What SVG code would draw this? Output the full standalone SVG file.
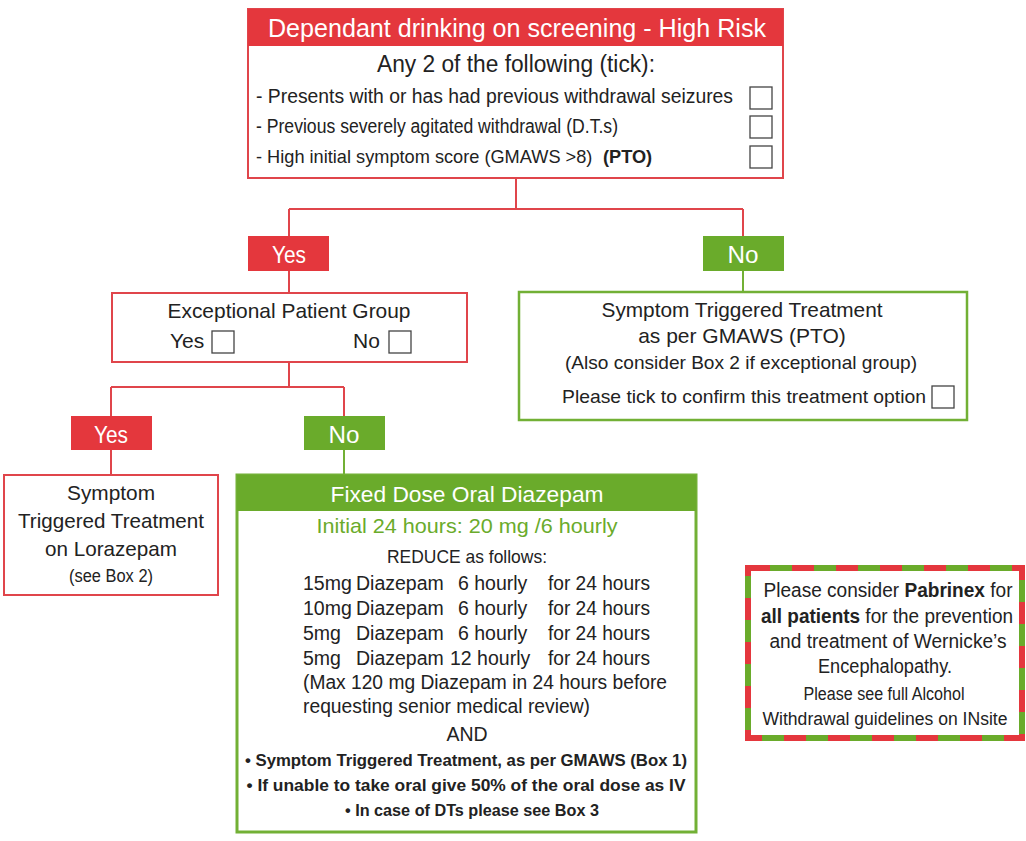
<svg xmlns="http://www.w3.org/2000/svg" width="1026" height="841" viewBox="0 0 1026 841">
<style>
text{font-family:"Liberation Sans",Arial,sans-serif;fill:#222}
.w{fill:#fff}
.c{text-anchor:middle}
.rb{fill:#fff;stroke:#e0454b;stroke-width:2}
.gb{fill:#fff;stroke:#72b035;stroke-width:2.5}
.rf{fill:#e4373d}
.gf{fill:#6aab2b}
.cb{fill:#fff;stroke:#444;stroke-width:1.3}
.rl{stroke:#e0454b;stroke-width:2;fill:none}
.gl{stroke:#72b035;stroke-width:2;fill:none}
.b{font-weight:bold}
</style>
<rect width="1026" height="841" fill="#fff"/>
<g id="connectors">
<path class="rl" d="M516 178V209M289 209H743M289 209V236M743 209V236"/>
<path class="rl" d="M289 271V293"/>
<path class="gl" d="M743 271V292"/>
<path class="rl" d="M289 362V387M111 387H344M111 387V416M344 387V416"/>
<path class="rl" d="M111 450V475"/>
<path class="gl" d="M344 450V475"/>
</g>
<g id="high-risk">
<rect class="rb" x="248" y="9" width="535" height="169"/>
<rect class="rf" x="248" y="9" width="535" height="37"/>
<text class="w c" x="517" y="37" font-size="25.5" textLength="498" lengthAdjust="spacingAndGlyphs">Dependant drinking on screening - High Risk</text>
<text class="c" x="516" y="72" font-size="23" textLength="278" lengthAdjust="spacingAndGlyphs">Any 2 of the following (tick):</text>
<text x="256" y="103" font-size="19.5" textLength="477" lengthAdjust="spacingAndGlyphs">- Presents with or has had previous withdrawal seizures</text>
<text x="256" y="133" font-size="19.5" textLength="362" lengthAdjust="spacingAndGlyphs">- Previous severely agitated withdrawal (D.T.s)</text>
<text x="256" y="163" font-size="18.2">- High initial symptom score (GMAWS &gt;8)</text>
<text class="b" x="603" y="163" font-size="18.2">(PTO)</text>
<rect class="cb" x="750" y="87" width="22" height="22"/>
<rect class="cb" x="750" y="116" width="22" height="22"/>
<rect class="cb" x="750" y="146" width="22" height="22"/>
</g>
<g id="yes1">
<rect class="rf" x="248" y="236" width="81" height="35"/>
<text class="w c" x="289" y="263" font-size="23" textLength="34" lengthAdjust="spacingAndGlyphs">Yes</text>
</g>
<g id="no1">
<rect class="gf" x="703" y="236" width="81" height="35"/>
<text class="w c" x="743" y="263" font-size="23" textLength="31" lengthAdjust="spacingAndGlyphs">No</text>
</g>
<g id="exceptional">
<rect class="rb" x="112" y="293" width="355" height="69"/>
<text class="c" x="289" y="318" font-size="21" textLength="243" lengthAdjust="spacingAndGlyphs">Exceptional Patient Group</text>
<text x="170" y="348" font-size="21">Yes</text>
<rect class="cb" x="212" y="331" width="22" height="22"/>
<text x="353" y="348" font-size="21">No</text>
<rect class="cb" x="389" y="331" width="22" height="22"/>
</g>
<g id="symptom-gmaws">
<rect class="gb" x="519" y="292" width="448" height="128"/>
<text class="c" x="742" y="317" font-size="21" textLength="281" lengthAdjust="spacingAndGlyphs">Symptom Triggered Treatment</text>
<text class="c" x="742" y="343" font-size="21">as per GMAWS (PTO)</text>
<text class="c" x="741" y="369" font-size="18.5" textLength="352" lengthAdjust="spacingAndGlyphs">(Also consider Box 2 if exceptional group)</text>
<text x="562" y="403" font-size="18.5" textLength="364" lengthAdjust="spacingAndGlyphs">Please tick to confirm this treatment option</text>
<rect class="cb" x="932" y="386" width="22" height="22"/>
</g>
<g id="yes2">
<rect class="rf" x="71" y="416" width="81" height="34"/>
<text class="w c" x="111" y="443" font-size="23" textLength="34" lengthAdjust="spacingAndGlyphs">Yes</text>
</g>
<g id="no2">
<rect class="gf" x="304" y="416" width="81" height="34"/>
<text class="w c" x="344" y="443" font-size="23" textLength="31" lengthAdjust="spacingAndGlyphs">No</text>
</g>
<g id="lorazepam">
<rect class="rb" x="4" y="475" width="214" height="120"/>
<text class="c" x="111" y="500" font-size="21" textLength="88" lengthAdjust="spacingAndGlyphs">Symptom</text>
<text class="c" x="111" y="528" font-size="21" textLength="186" lengthAdjust="spacingAndGlyphs">Triggered Treatment</text>
<text class="c" x="111" y="556" font-size="21" textLength="132" lengthAdjust="spacingAndGlyphs">on Lorazepam</text>
<text class="c" x="111" y="582" font-size="17.5" textLength="84" lengthAdjust="spacingAndGlyphs">(see Box 2)</text>
</g>
<g id="diazepam">
<rect x="237" y="475" width="459" height="357" fill="#fff" stroke="#72b035" stroke-width="3"/>
<rect class="gf" x="237" y="475" width="459" height="36"/>
<text class="w c" x="467" y="502" font-size="22.5" textLength="273" lengthAdjust="spacingAndGlyphs">Fixed Dose Oral Diazepam</text>
<text class="c" x="467" y="533" font-size="21" style="fill:#6aab2b" textLength="301" lengthAdjust="spacingAndGlyphs">Initial 24 hours: 20 mg /6 hourly</text>
<text class="c" x="467" y="563" font-size="19" textLength="160" lengthAdjust="spacingAndGlyphs">REDUCE as follows:</text>
<g font-size="19.5">
<text x="303" y="590">15mg</text><text x="356" y="590">Diazepam</text><text x="458" y="590">6 hourly</text><text x="548" y="590" textLength="102" lengthAdjust="spacingAndGlyphs">for 24 hours</text>
<text x="303" y="615">10mg</text><text x="356" y="615">Diazepam</text><text x="458" y="615">6 hourly</text><text x="548" y="615" textLength="102" lengthAdjust="spacingAndGlyphs">for 24 hours</text>
<text x="303" y="640">5mg</text><text x="356" y="640">Diazepam</text><text x="458" y="640">6 hourly</text><text x="548" y="640" textLength="102" lengthAdjust="spacingAndGlyphs">for 24 hours</text>
<text x="303" y="665">5mg</text><text x="356" y="665">Diazepam</text><text x="450" y="665">12 hourly</text><text x="548" y="665" textLength="102" lengthAdjust="spacingAndGlyphs">for 24 hours</text>
<text x="303" y="689" textLength="364" lengthAdjust="spacingAndGlyphs">(Max 120 mg Diazepam in 24 hours before</text>
<text x="303" y="713" textLength="287" lengthAdjust="spacingAndGlyphs">requesting senior medical review)</text>
<text class="c" x="467" y="741">AND</text>
</g>
<g font-size="16.5" class="b">
<text class="c b" x="466" y="766" textLength="442" lengthAdjust="spacingAndGlyphs">• Symptom Triggered Treatment, as per GMAWS (Box 1)</text>
<text class="c b" x="466" y="791" textLength="439" lengthAdjust="spacingAndGlyphs">• If unable to take oral give 50% of the oral dose as IV</text>
<text class="c b" x="472" y="816" textLength="254" lengthAdjust="spacingAndGlyphs">• In case of DTs please see Box 3</text>
</g>
</g>
<g id="pabrinex">
<rect x="748" y="568" width="274" height="170" fill="#fff" stroke="#6aab2b" stroke-width="6"/>
<rect x="748" y="568" width="274" height="170" fill="none" stroke="#e4373d" stroke-width="6" stroke-dasharray="22 22"/>
<text class="c" x="888" y="597" font-size="19.5" textLength="249" lengthAdjust="spacingAndGlyphs">Please consider <tspan class="b">Pabrinex</tspan> for</text>
<text class="c" x="887" y="623" font-size="19.5" textLength="252" lengthAdjust="spacingAndGlyphs"><tspan class="b">all patients</tspan> for the prevention</text>
<text class="c" x="888" y="648" font-size="19.5" textLength="237" lengthAdjust="spacingAndGlyphs">and treatment of Wernicke’s</text>
<text class="c" x="885" y="673" font-size="19.5" textLength="134" lengthAdjust="spacingAndGlyphs">Encephalopathy.</text>
<text class="c" x="884" y="700" font-size="18" textLength="161" lengthAdjust="spacingAndGlyphs">Please see full Alcohol</text>
<text class="c" x="885" y="725" font-size="18" textLength="245" lengthAdjust="spacingAndGlyphs">Withdrawal guidelines on INsite</text>
</g>
</svg>
